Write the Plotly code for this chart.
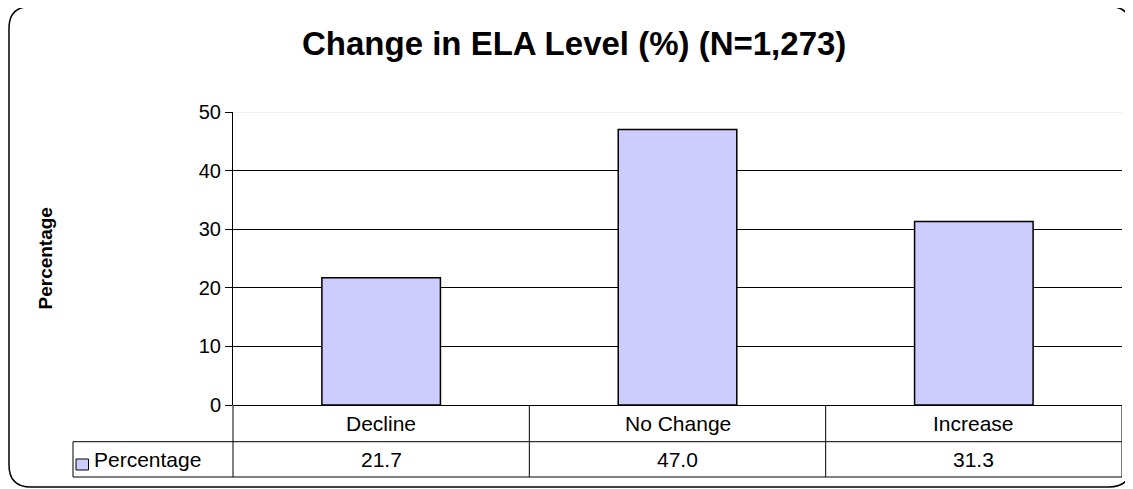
import plotly.graph_objects as go

# ---- data ----
categories = ["Decline", "No Change", "Increase"]
values = [21.7, 47.0, 31.3]
value_labels = ["21.7", "47.0", "31.3"]
series_name = "Percentage"
y_ticks = [0, 10, 20, 30, 40, 50]
title_text = "Change in ELA Level (%) (N=1,273)"
y_title = "Percentage"

# ---- geometry (pixels, in reference-screenshot coordinates) ----
OX, OY = 8, 8                 # page body margin offset
FW, FH = 1133 - OX, 489 - OY
PL, PR, PT, PB = 233.3, 1122.7, 111.7, 404.7   # plot area in reference px
L = round(PL - OX)
T = round(PT - OY)
W = round(PR - PL)
H = round(PB - PT)
R = FW - L - W
B = FH - T - H

def px_x(px):
    return (px - OX - L) / W

def px_y(py):
    return (T + H - (py - OY)) / H

FONT = "Arial, Liberation Sans, sans-serif"
BAR_COLOR = "#CCCCFF"

fig = go.Figure()
fig.add_trace(go.Bar(
    x=list(range(len(categories))),
    y=values,
    name=series_name,
    marker=dict(color=BAR_COLOR, line=dict(color="black", width=1.5)),
    width=0.40,
    showlegend=False,
    hoverinfo="skip",
))

shapes = []
annotations = []

# top gridline is light gray in the reference
shapes.append(dict(type="line", xref="paper", yref="y", x0=0, x1=1,
                   y0=y_ticks[-1], y1=y_ticks[-1],
                   line=dict(color="#e0e0e0", width=1), layer="above"))

# data table lines
row1_bot = px_y(441.7)
row2_bot = px_y(477)
legend_left = px_x(73)
right_edge = 1.0
shapes.append(dict(type="line", xref="paper", yref="paper", x0=legend_left, x1=right_edge,
                   y0=row1_bot, y1=row1_bot, line=dict(color="black", width=1)))
shapes.append(dict(type="line", xref="paper", yref="paper", x0=legend_left, x1=right_edge,
                   y0=row2_bot, y1=row2_bot, line=dict(color="black", width=1)))
shapes.append(dict(type="line", xref="paper", yref="paper", x0=legend_left, x1=legend_left,
                   y0=row1_bot, y1=row2_bot, line=dict(color="black", width=1)))
shapes.append(dict(type="line", xref="paper", yref="paper", x0=0, x1=0,
                   y0=0, y1=row2_bot, line=dict(color="black", width=1)))
for i in range(1, len(categories) + 1):
    shapes.append(dict(type="line", xref="x", yref="paper", x0=i - 0.5, x1=i - 0.5,
                       y0=0, y1=row2_bot, line=dict(color="black", width=1)))

# legend key square
shapes.append(dict(type="rect", xref="paper", yref="paper",
                   x0=px_x(76), x1=px_x(88.5), y0=px_y(470), y1=px_y(459),
                   fillcolor=BAR_COLOR, line=dict(color="black", width=1)))

# outer rounded border
x0b, y0b, x1b, y1b, r = 9, 6.5, 1131, 487, 22
def P(px, py):
    return f"{px_x(px):.5f},{px_y(py):.5f}"
path = (f"M {P(x0b + r, y0b)} L {P(x1b - r, y0b)} Q {P(x1b, y0b)} {P(x1b, y0b + r)} "
        f"L {P(x1b, y1b - r)} Q {P(x1b, y1b)} {P(x1b - r, y1b)} "
        f"L {P(x0b + r, y1b)} Q {P(x0b, y1b)} {P(x0b, y1b - r)} "
        f"L {P(x0b, y0b + r)} Q {P(x0b, y0b)} {P(x0b + r, y0b)} Z")
shapes.append(dict(type="path", xref="paper", yref="paper", path=path,
                   line=dict(color="black", width=1.5)))

# table texts
row1_mid = (0 + row1_bot) / 2
row2_mid = (row1_bot + row2_bot) / 2
TFS = 21
for i, (c, v) in enumerate(zip(categories, value_labels)):
    annotations.append(dict(x=i, y=row1_mid, xref="x", yref="paper", text=c,
                            showarrow=False, font=dict(family=FONT, size=TFS, color="black"),
                            xanchor="center", yanchor="middle"))
    annotations.append(dict(x=i, y=row2_mid, xref="x", yref="paper", text=v,
                            showarrow=False, font=dict(family=FONT, size=TFS, color="black"),
                            xanchor="center", yanchor="middle"))
annotations.append(dict(x=px_x(92), y=row2_mid, xref="paper", yref="paper", text=series_name,
                        showarrow=False, font=dict(family=FONT, size=TFS, color="black"),
                        xanchor="left", yanchor="middle"))

# y axis title
annotations.append(dict(x=px_x(45), y=0.5, xref="paper", yref="paper", text=f"<b>{y_title}</b>",
                        showarrow=False, textangle=-90,
                        font=dict(family=FONT, size=19, color="black"),
                        xanchor="center", yanchor="middle"))

# title
annotations.append(dict(x=px_x(574), y=px_y(43), xref="paper", yref="paper",
                        text=f"<b>{title_text}</b>", showarrow=False,
                        font=dict(family=FONT, size=33, color="black"),
                        xanchor="center", yanchor="middle"))

fig.update_layout(
    width=FW, height=FH,
    margin=dict(l=L, r=R, t=T, b=B, autoexpand=False),
    paper_bgcolor="white", plot_bgcolor="white",
    shapes=shapes,
    annotations=annotations,
    showlegend=False,
    bargap=0.6,
)
fig.update_xaxes(range=[-0.5, len(categories) - 0.5], showticklabels=False, showgrid=False,
                 zeroline=False, showline=False, ticks="", fixedrange=True)
fig.update_yaxes(range=[y_ticks[0], y_ticks[-1]], tickvals=y_ticks, showgrid=True,
                 gridcolor="black", gridwidth=1, zeroline=True, zerolinecolor="black",
                 zerolinewidth=1, showline=True, linecolor="black", linewidth=1,
                 ticks="outside", ticklen=7, tickcolor="black",
                 tickfont=dict(family=FONT, size=20, color="black"), fixedrange=True)

fig.write_html("out.html")
